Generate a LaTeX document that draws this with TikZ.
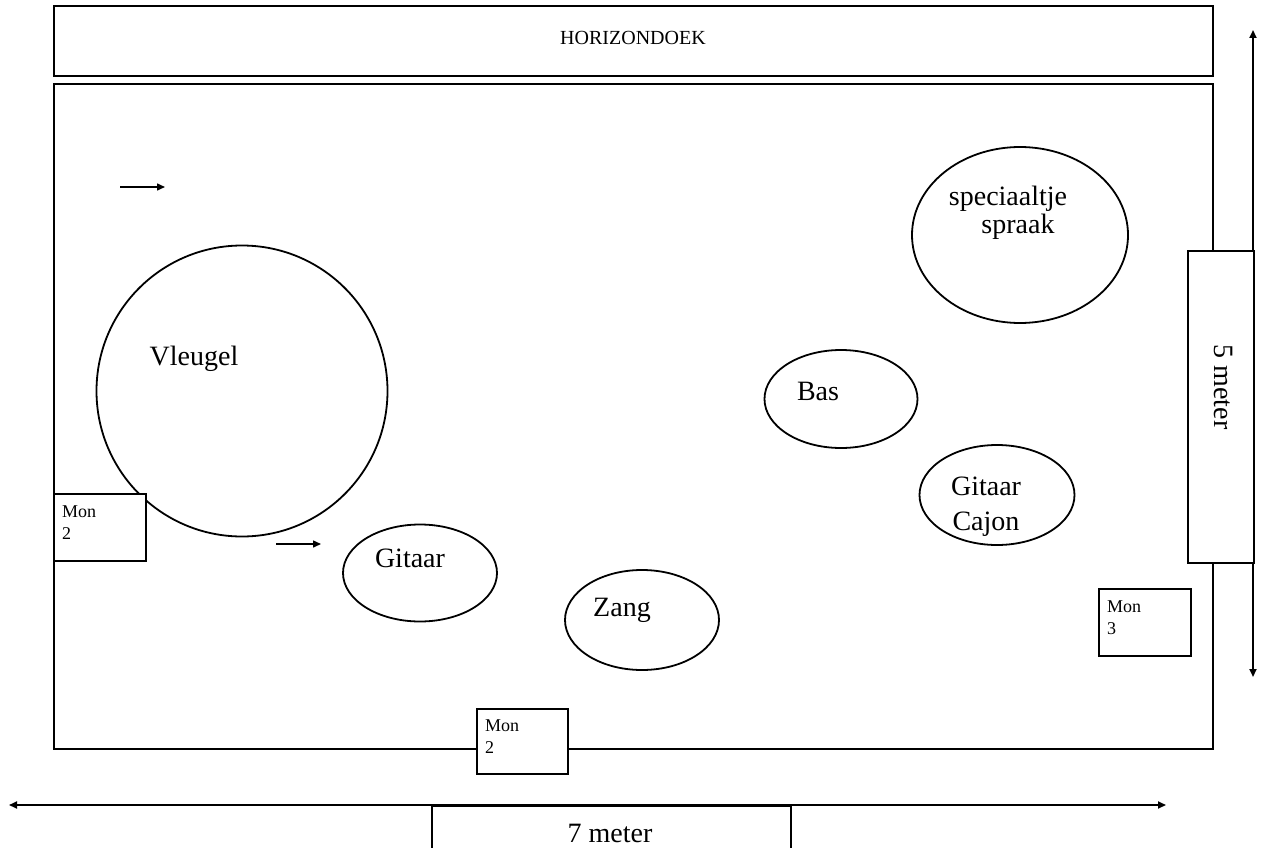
\documentclass[tikz,border=0pt]{standalone}
\usepackage{fontspec}
\setmainfont{Liberation Serif}
\usetikzlibrary{shapes.geometric,arrows.meta}
\begin{document}
\begin{tikzpicture}[x=1pt,y=-1pt,
  ln/.style={line width=1.8pt},
  blob/.style={ln,draw,ellipse,inner sep=0pt},
  box/.style={ln,draw,fill=white,rectangle,inner sep=0pt,anchor=north west},
  txt/.style={font=\fontsize{28}{32}\selectfont,inner sep=0pt,anchor=base},
  htxt/.style={font=\fontsize{20}{24}\selectfont,inner sep=0pt,anchor=base},
  mon/.style={font=\fontsize{18}{22}\selectfont,inner sep=0pt,anchor=north west,align=left},
  arr/.style={ln,-{Triangle[length=8pt,width=7pt]}},
  darr/.style={ln,{Triangle[length=8pt,width=7pt]}-{Triangle[length=8pt,width=7pt]}}]
\useasboundingbox (0,0) rectangle (1263,848);
% horizon cloth
\node[box,minimum width=1159pt,minimum height=70pt] (hor) at (53,5) {};
\node[htxt] (hortxt) at (633,45) {HORIZONDOEK};
% stage
\node[box,minimum width=1159pt,minimum height=665pt] (stage) at (53,83) {};
% small arrows
\coordinate (a1s) at (120,187); \coordinate (a1e) at (165,187);
\draw[arr,line width=1.5pt] (a1s) -- (a1e);
\coordinate (a2s) at (276,544); \coordinate (a2e) at (321,544);
\draw[arr,line width=1.5pt] (a2s) -- (a2e);
% instruments
\node[blob,circle,minimum size=291pt] (vleugel) at (242,391) {};
\node[txt] at (194,365) {Vleugel};
\node[blob,minimum width=154pt,minimum height=97pt] (gitaar) at (420,573) {};
\node[txt] at (410,567) {Gitaar};
\node[blob,minimum width=154pt,minimum height=100pt] (zang) at (642,620) {};
\node[txt] at (622,616) {Zang};
\node[blob,minimum width=153pt,minimum height=98pt] (bas) at (841,399) {};
\node[txt] at (818,400) {Bas};
\node[blob,minimum width=155pt,minimum height=100pt] (cajon) at (997,495) {};
\node[txt] at (986,495) {Gitaar};
\node[txt] at (986,530) {Cajon};
\node[blob,minimum width=216pt,minimum height=176pt] (spec) at (1020,235) {};
\node[txt] at (1008,205) {speciaaltje};
\node[txt] at (1018,233) {spraak};
% monitors
\node[box,minimum width=92pt,minimum height=67pt] (mon2l) at (53,493) {};
\node[mon] at (62,506) {Mon\\2};
\node[box,minimum width=91pt,minimum height=65pt] (mon2b) at (476,708) {};
\node[mon] at (485,720) {Mon\\2};
\node[box,minimum width=92pt,minimum height=67pt] (mon3) at (1098,588) {};
\node[mon] at (1107,601) {Mon\\3};
% dimensions
\coordinate (vtop) at (1253,30); \coordinate (vbot) at (1253,677);
\draw[darr] (vtop) -- (vbot);
\node[box,minimum width=66pt,minimum height=312pt] (five) at (1187,250) {};
\node[txt,anchor=center,rotate=-90] at (1224,387) {5 meter};
\coordinate (hl) at (9,805); \coordinate (hr) at (1166,805);
\draw[darr] (hl) -- (hr);
\node[box,minimum width=359pt,minimum height=50pt] (seven) at (431,805) {};
\node[txt] at (610,842) {7 meter};
\end{tikzpicture}
\end{document}
